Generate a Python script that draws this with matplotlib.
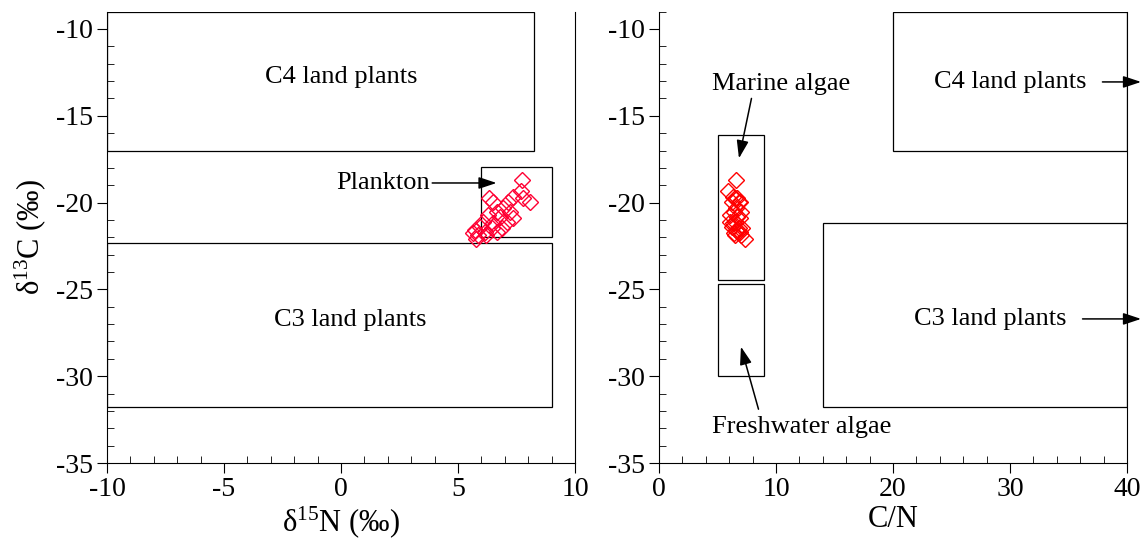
import matplotlib
matplotlib.use('Agg')
import matplotlib.pyplot as plt
from matplotlib.patches import Rectangle
from matplotlib.ticker import MultipleLocator

plt.rcParams['font.family'] = 'Liberation Serif'
plt.rcParams['mathtext.fontset'] = 'custom'
plt.rcParams['mathtext.rm'] = 'Liberation Serif'
plt.rcParams['mathtext.it'] = 'Liberation Serif:italic'
plt.rcParams['axes.unicode_minus'] = False

# data
d15n = [7.72, 7.69, 8.08, 7.36, 7.79, 6.34, 6.51, 7.15, 6.94, 6.65, 7.22, 6.30, 6.79, 7.36,
        7.08, 6.51, 6.08, 6.87, 6.44, 5.94, 5.73, 6.15, 5.87, 5.65, 5.77, 6.65, 6.22]
d13c = [-18.7, -19.33, -19.98, -19.66, -19.75, -19.75, -19.95, -19.95, -20.33, -20.52, -20.52,
        -20.71, -20.81, -20.9, -21.1, -21.19, -21.1, -21.48, -21.48, -21.39, -21.58, -21.68,
        -21.87, -21.77, -22.1, -21.68, -21.87]
cn = [6.55, 5.9, 6.9, 6.3, 6.7, 6.5, 6.8, 6.2, 6.6, 6.4, 7.0, 6.1, 6.7, 6.9,
      6.5, 6.3, 6.07, 6.8, 7.1, 6.2, 6.6, 6.9, 7.0, 6.4, 7.35, 6.78, 6.5]

# source boxes: (x0, x1, y0, y1)
boxes_n = {'C4': (-10, 8.25, -17, -9), 'C3': (-10, 9.0, -31.8, -22.35), 'Plankton': (6.0, 9.0, -22.0, -17.95)}
boxes_cn = {'Marine': (5, 9, -24.45, -16.1), 'Fresh': (5, 9, -30, -24.7),
            'C4': (20, 40, -17, -9), 'C3': (14, 40, -31.8, -21.2)}

fig = plt.figure(figsize=(11.43, 5.43), dpi=100)
ax1 = fig.add_axes([0.0936, 0.1473, 0.4094, 0.8313])
ax2 = fig.add_axes([0.5766, 0.1473, 0.4094, 0.8313])

for ax, boxes in [(ax1, boxes_n), (ax2, boxes_cn)]:
    for x0, x1, y0, y1 in boxes.values():
        ax.add_patch(Rectangle((x0, y0), x1 - x0, y1 - y0, fill=False, ec='k', lw=0.9, zorder=1))
    ax.set_ylim(-35, -9)
    ax.yaxis.set_major_locator(MultipleLocator(5))
    ax.yaxis.set_minor_locator(MultipleLocator(1))
    ax.spines['top'].set_visible(False)
    ax.tick_params(which='major', direction='out', length=7, labelsize=20, right=False, top=False, pad=3)
    ax.tick_params(which='minor', direction='in', length=5, right=False, top=False)

ax1.plot(d15n, d13c, 'D', ms=8.5, mfc='none', mec='#ff0033', mew=1, zorder=3)
ax2.plot(cn, d13c, 'D', ms=8.5, mfc='none', mec='#ff0000', mew=1, zorder=3)

ax1.set_xlim(-10, 10)
ax1.xaxis.set_major_locator(MultipleLocator(5))
ax1.xaxis.set_minor_locator(MultipleLocator(1))
ax2.set_xlim(0, 40)
ax2.xaxis.set_major_locator(MultipleLocator(10))
ax2.xaxis.set_minor_locator(MultipleLocator(2))

ax1.set_xlabel(r'δ$^{15}$N (‰)', fontsize=22, labelpad=2)
ax1.set_ylabel(r'δ$^{13}$C (‰)', fontsize=22, labelpad=6)
ax2.set_xlabel('C/N', fontsize=22, labelpad=2)

fs = 19
ax1.text(0.0, -12.77, 'C4 land plants', ha='center', va='center', fontsize=fs)
ax1.text(0.38, -26.76, 'C3 land plants', ha='center', va='center', fontsize=fs)
ax1.text(1.79, -18.87, 'Plankton', ha='center', va='center', fontsize=fs)
arrow = dict(arrowstyle='-|>,head_length=0.9,head_width=0.3', color='k', lw=1.1,
             mutation_scale=12, shrinkA=0, shrinkB=0)
ax1.annotate('', xy=(6.65, -18.87), xytext=(3.9, -18.87), arrowprops=arrow)

ax2.text(30.0, -13.05, 'C4 land plants', ha='center', va='center', fontsize=fs)
ax2.text(28.3, -26.7, 'C3 land plants', ha='center', va='center', fontsize=fs)
ax2.text(10.4, -13.17, 'Marine algae', ha='center', va='center', fontsize=fs)
ax2.text(12.2, -32.93, 'Freshwater algae', ha='center', va='center', fontsize=fs)
ax2.annotate('', xy=(6.83, -17.45), xytext=(7.9, -14.0), arrowprops=arrow)
ax2.annotate('', xy=(7.0, -28.3), xytext=(8.5, -31.9), arrowprops=arrow)
ax2.annotate('', xy=(41.2, -13.05), xytext=(37.9, -13.05), arrowprops=arrow, annotation_clip=False)
ax2.annotate('', xy=(41.2, -26.7), xytext=(36.2, -26.7), arrowprops=arrow, annotation_clip=False)

fig.savefig('out.png', dpi=100)
